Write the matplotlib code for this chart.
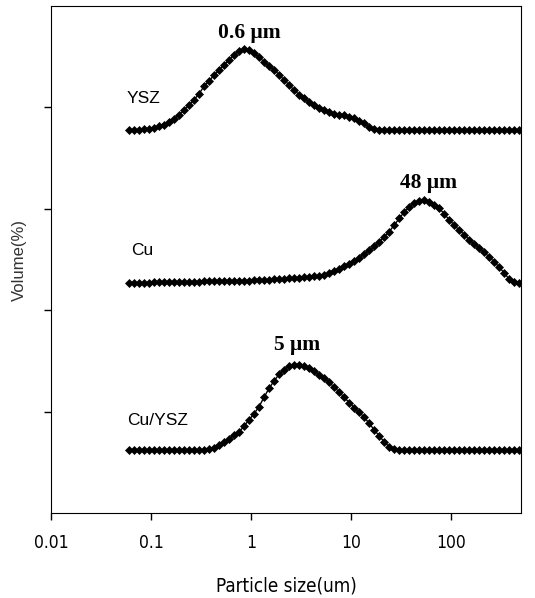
import matplotlib
matplotlib.use("Agg")
import matplotlib.pyplot as plt

# particle size channels (um)
size_um = [0.0603, 0.0676, 0.0759, 0.0851, 0.0955, 0.107, 0.120, 0.135, 0.151, 0.170,
           0.191, 0.214, 0.240, 0.269, 0.302, 0.339, 0.380, 0.427, 0.479, 0.537,
           0.603, 0.676, 0.759, 0.851, 0.955, 1.07, 1.20, 1.35, 1.51, 1.70,
           1.91, 2.14, 2.40, 2.69, 3.02, 3.39, 3.80, 4.27, 4.79, 5.37,
           6.03, 6.76, 7.59, 8.51, 9.55, 10.7, 12.0, 13.5, 15.1, 17.0,
           19.1, 21.4, 24.0, 26.9, 30.2, 33.9, 38.0, 42.7, 47.9, 53.7,
           60.3, 67.6, 75.9, 85.1, 95.5, 107, 120, 135, 151, 170,
           191, 214, 240, 269, 302, 339, 380, 427, 479]

# volume (%) per channel
ysz = [0, 0, 0, 0.05, 0.1, 0.18, 0.35, 0.5, 0.8, 1.1,
       1.5, 1.95, 2.45, 2.95, 3.55, 4.3, 4.8, 5.4, 5.9, 6.4,
       6.9, 7.4, 7.75, 7.98, 7.85, 7.55, 7.15, 6.7, 6.3, 5.9,
       5.4, 4.9, 4.4, 3.9, 3.45, 3.1, 2.75, 2.45, 2.15, 1.9,
       1.7, 1.58, 1.5, 1.42, 1.3, 1.15, 0.9, 0.65, 0.3, 0.1,
       0.02, 0, 0, 0, 0, 0, 0, 0, 0, 0,
       0, 0, 0, 0, 0, 0, 0, 0, 0, 0,
       0, 0, 0, 0, 0, 0, 0, 0, 0]

cu = [0, 0, 0, 0.02, 0.03, 0.04, 0.05, 0.06, 0.07, 0.08,
      0.09, 0.1, 0.11, 0.12, 0.13, 0.14, 0.15, 0.16, 0.17, 0.18,
      0.19, 0.2, 0.21, 0.22, 0.23, 0.25, 0.27, 0.29, 0.31, 0.34,
      0.37, 0.4, 0.44, 0.47, 0.51, 0.56, 0.61, 0.66, 0.72, 0.82,
      0.98, 1.18, 1.38, 1.65, 1.9, 2.15, 2.5, 2.85, 3.2, 3.6,
      4.05, 4.55, 5.05, 5.7, 6.35, 7.0, 7.45, 7.9, 8.1, 8.18,
      8.0, 7.7, 7.35, 6.8, 6.2, 5.7, 5.2, 4.75, 4.25, 3.85,
      3.45, 3.0, 2.55, 2.05, 1.55, 0.95, 0.35, 0.05, 0]

cu_ysz = [0, 0, 0, 0, 0, 0, 0, 0, 0, 0,
          0, 0, 0, 0, 0, 0, 0.1, 0.25, 0.5, 0.85,
          1.1, 1.5, 1.8, 2.4, 3.0, 3.6, 4.3, 5.25, 6.1, 6.85,
          7.5, 7.95, 8.3, 8.45, 8.45, 8.3, 8.1, 7.8, 7.45, 7.1,
          6.7, 6.2, 5.75, 5.2, 4.7, 4.2, 3.75, 3.25, 2.65, 2.0,
          1.4, 0.8, 0.35, 0.1, 0, 0, 0, 0, 0, 0,
          0, 0, 0, 0, 0, 0, 0, 0, 0, 0,
          0, 0, 0, 0, 0, 0, 0, 0, 0]

names = ["YSZ", "Cu", "Cu/YSZ"]
peaks = ["0.6 \u03bcm", "48 \u03bcm", "5 \u03bcm"]

# vertical stacking offsets
offsets = [37.8, 22.7, 6.2]

narrow = ["Liberation Sans Narrow", "DejaVu Sans"]

fig = plt.figure(figsize=(5.35, 5.98), dpi=100)
ax = fig.add_axes([0.0953, 0.142, 0.879, 0.848])

for vals, off in zip([ysz, cu, cu_ysz], offsets):
    ax.plot(size_um, [v + off for v in vals], color="black", lw=1,
            marker="D", markersize=4.2, markeredgewidth=0.5)

ax.set_xscale("log")
ax.set_xlim(0.01, 500)
ax.set_ylim(0, 50)
ax.set_xticks([0.01, 0.1, 1, 10, 100])
ax.set_xticklabels(["0.01", "0.1", "1", "10", "100"])
ax.minorticks_off()
ax.set_yticks([10, 20, 30, 40])
ax.set_yticklabels([])
ax.tick_params(direction="out", length=5, width=1)
ax.tick_params(axis="x", labelsize=12.5, pad=10)
ax.tick_params(axis="y", pad=0)
for lab in ax.get_xticklabels():
    lab.set_family(narrow)
    lab.set_fontstretch("condensed")

# sample names
name_pos = [(0.0565, 40.9), (0.063, 25.9), (0.057, 9.1)]
for name, (x, y) in zip(names, name_pos):
    ax.text(x, y, name, fontsize=12.5, family="Liberation Sans", va="center")

# peak labels
peak_pos = [(0.95, 47.3), (59, 32.5), (2.9, 16.6)]
for txt, (x, y) in zip(peaks, peak_pos):
    ax.text(x, y, txt, fontsize=15.5, fontweight="bold", family="Liberation Serif",
            ha="center", va="center")

ax.set_xlabel("Particle size(um)", fontsize=13.5, family=narrow,
              fontstretch="condensed", labelpad=18)
ax.set_ylabel("Volume(%)", fontsize=12, family="Liberation Sans",
              color="#333333", labelpad=12)

fig.savefig("out.png", dpi=100)
